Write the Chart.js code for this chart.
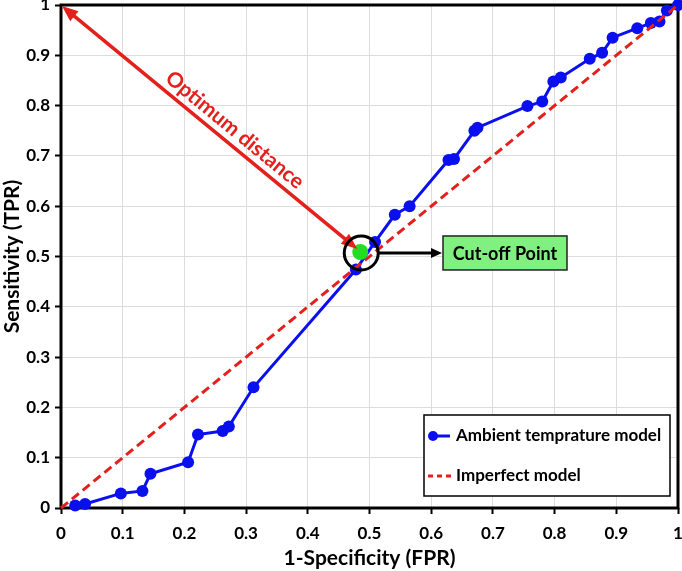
<!DOCTYPE html>
<html>
<head>
<meta charset="utf-8">
<script src="https://cdn.jsdelivr.net/npm/chart.js@4.4.1/dist/chart.umd.min.js"></script>
<style>
  html, body { margin: 0; padding: 0; background: #fff; }
  #wrap { width: 682px; height: 571px; }
</style>
</head>
<body>
<div id="wrap"><canvas id="roc"></canvas></div>
<script>
// ROC curve values
const fpr = [0.023, 0.039, 0.097, 0.132, 0.145, 0.206, 0.222, 0.262, 0.272, 0.312,
             0.478, 0.509, 0.541, 0.565, 0.628, 0.637, 0.670, 0.675, 0.756, 0.780,
             0.798, 0.810, 0.857, 0.877, 0.894, 0.934, 0.956, 0.970, 0.982, 1.000];
const tpr = [0.005, 0.008, 0.029, 0.034, 0.068, 0.091, 0.146, 0.153, 0.162, 0.240,
             0.474, 0.529, 0.583, 0.600, 0.692, 0.694, 0.750, 0.756, 0.799, 0.808,
             0.848, 0.856, 0.893, 0.905, 0.935, 0.954, 0.964, 0.967, 0.989, 1.000];
const diagX = [0, 1];
const diagY = [0, 1];
const cutoff = [0.485, 0.509];
const optimumCorner = [0, 1];
const tickValues = [0, 0.1, 0.2, 0.3, 0.4, 0.5, 0.6, 0.7, 0.8, 0.9, 1];
const seriesLabels = ['Ambient temprature model', 'Imperfect model'];

const FONT = 'Lato, "Open Sans", sans-serif';
const BLUE = '#0a0ff0';
const RED = '#e3201b';

function toPoints(xs, ys) {
    return xs.map((x, i) => ({ x: x, y: ys[i] }));
}

function setTicks(scale) {
    scale.ticks = tickValues.map(v => ({ value: v }));
}

function arrowHead(ctx, fx, fy, tx, ty, len, half) {
    const a = Math.atan2(ty - fy, tx - fx);
    ctx.beginPath();
    ctx.moveTo(tx, ty);
    ctx.lineTo(tx - len * Math.cos(a) + half * Math.sin(a), ty - len * Math.sin(a) - half * Math.cos(a));
    ctx.lineTo(tx - len * Math.cos(a) - half * Math.sin(a), ty - len * Math.sin(a) + half * Math.cos(a));
    ctx.closePath();
    ctx.fill();
}

// black frame round the plot area
const framePlugin = {
    id: 'frame',
    beforeDatasetsDraw(chart) {
        const { ctx, chartArea: a } = chart;
        ctx.save();
        ctx.strokeStyle = '#000';
        ctx.lineWidth = 3;
        ctx.strokeRect(a.left, a.top, a.right - a.left, a.bottom - a.top);
        ctx.restore();
    }
};

// arrows, circle and the cut-off label
const notesPlugin = {
    id: 'notes',
    afterDatasetsDraw(chart) {
        const { ctx, scales: { x, y } } = chart;
        const cx = x.getPixelForValue(cutoff[0]);
        const cy = y.getPixelForValue(cutoff[1]);
        const ox = x.getPixelForValue(optimumCorner[0]) + 1;
        const oy = y.getPixelForValue(optimumCorner[1]) + 1;
        ctx.save();

        // optimum distance double arrow
        const ex = cx - 3, ey = cy - 3;
        const ang = Math.atan2(ey - oy, ex - ox);
        ctx.strokeStyle = RED;
        ctx.fillStyle = RED;
        ctx.lineWidth = 3.5;
        ctx.beginPath();
        ctx.moveTo(ox + 10 * Math.cos(ang), oy + 10 * Math.sin(ang));
        ctx.lineTo(ex - 10 * Math.cos(ang), ey - 10 * Math.sin(ang));
        ctx.stroke();
        arrowHead(ctx, ex, ey, ox, oy, 16, 6.5);
        arrowHead(ctx, ox, oy, ex, ey, 16, 6.5);

        // label along the arrow
        const mx = ox + (ex - ox) * 0.555 + 14 * Math.sin(ang);
        const my = oy + (ey - oy) * 0.555 - 14 * Math.cos(ang);
        ctx.translate(mx, my);
        ctx.rotate(ang);
        ctx.font = 'bold 21px ' + FONT;
        ctx.textAlign = 'center';
        ctx.textBaseline = 'middle';
        ctx.fillText('Optimum distance', 0, 0);
        ctx.setTransform(1, 0, 0, 1, 0, 0);

        // circle around the cut-off point
        ctx.strokeStyle = '#000';
        ctx.fillStyle = '#000';
        ctx.lineWidth = 3;
        ctx.beginPath();
        ctx.arc(cx + 1, cy + 1, 17, 0, Math.PI * 2);
        ctx.stroke();

        // black arrow to the label box
        const bx = 443, by = cy + 1;
        ctx.beginPath();
        ctx.moveTo(cx + 18, by);
        ctx.lineTo(bx - 8, by);
        ctx.stroke();
        arrowHead(ctx, cx + 18, by, bx - 1, by, 11, 5);

        // label box
        ctx.fillStyle = '#80f080';
        ctx.fillRect(bx, by - 17, 124, 34);
        ctx.lineWidth = 1.5;
        ctx.strokeStyle = '#222';
        ctx.strokeRect(bx, by - 17, 124, 34);
        ctx.fillStyle = '#000';
        ctx.font = 'bold 18px ' + FONT;
        ctx.textAlign = 'center';
        ctx.textBaseline = 'middle';
        ctx.fillText('Cut-off Point', bx + 62, by + 1);
        ctx.restore();
    }
};

// legend box inside the plot
const legendPlugin = {
    id: 'boxLegend',
    afterDraw(chart) {
        const { ctx } = chart;
        const lx = 424, ly = 415, lw = 246, lh = 81;
        ctx.save();
        ctx.fillStyle = '#fff';
        ctx.fillRect(lx, ly, lw, lh);
        ctx.strokeStyle = '#000';
        ctx.lineWidth = 1.5;
        ctx.strokeRect(lx, ly, lw, lh);

        // blue entry
        ctx.strokeStyle = BLUE;
        ctx.lineWidth = 3;
        ctx.beginPath();
        ctx.moveTo(430, 436);
        ctx.lineTo(450, 436);
        ctx.stroke();
        ctx.fillStyle = BLUE;
        ctx.beginPath();
        ctx.arc(433, 436, 5, 0, Math.PI * 2);
        ctx.fill();

        // red entry
        ctx.strokeStyle = RED;
        ctx.setLineDash([5, 4]);
        ctx.beginPath();
        ctx.moveTo(428, 476);
        ctx.lineTo(452, 476);
        ctx.stroke();
        ctx.setLineDash([]);

        ctx.fillStyle = '#000';
        ctx.font = 'bold 17px ' + FONT;
        ctx.textAlign = 'left';
        ctx.textBaseline = 'middle';
        ctx.fillText(seriesLabels[0], 456, 436);
        ctx.fillText(seriesLabels[1], 456, 476);
        ctx.restore();
    }
};

const axisFont = { family: FONT, size: 17, weight: 'bold' };
const titleFont = { family: FONT, size: 21, weight: 'bold' };

new Chart(document.getElementById('roc'), {
    type: 'line',
    data: {
        datasets: [
            {
                label: 'Cut-off',
                data: [{ x: cutoff[0], y: cutoff[1] }],
                showLine: false,
                pointRadius: 8,
                pointBackgroundColor: '#22dd22',
                pointBorderWidth: 0,
                order: 0,
                clip: false
            },
            {
                label: seriesLabels[0],
                data: toPoints(fpr, tpr),
                borderColor: BLUE,
                backgroundColor: BLUE,
                borderWidth: 3,
                pointRadius: 6,
                pointBackgroundColor: BLUE,
                pointBorderWidth: 0,
                tension: 0,
                order: 2,
                clip: false
            },
            {
                label: seriesLabels[1],
                data: toPoints(diagX, diagY),
                borderColor: RED,
                borderWidth: 3,
                borderDash: [9, 5],
                pointRadius: 0,
                order: 1,
                clip: false
            }
        ]
    },
    options: {
        responsive: true,
        maintainAspectRatio: false,
        animation: false,
        layout: { autoPadding: false, padding: { top: 5, right: 4, left: 0, bottom: 0 } },
        plugins: {
            legend: { display: false },
            tooltip: { enabled: false }
        },
        scales: {
            x: {
                type: 'linear',
                min: 0,
                max: 1,
                afterBuildTicks: setTicks,
                afterFit(scale) {
                    scale.height = 63;
                    scale.paddingLeft = 0;
                    scale.paddingRight = 0;
                },
                grid: {
                    color: '#dcdcdc',
                    lineWidth: 1,
                    tickColor: '#000',
                    tickWidth: 2,
                    tickLength: 6
                },
                border: { display: false },
                ticks: {
                    color: '#000',
                    font: axisFont,
                    padding: 9,
                    maxRotation: 0,
                    autoSkip: false,
                    callback: v => +v.toFixed(1)
                },
                title: {
                    display: true,
                    text: '1-Specificity (FPR)',
                    color: '#000',
                    font: titleFont,
                    padding: { top: 0, bottom: 0 }
                }
            },
            y: {
                type: 'linear',
                min: 0,
                max: 1,
                afterBuildTicks: setTicks,
                afterFit(scale) {
                    scale.width = 61;
                    scale.paddingTop = 0;
                    scale.paddingBottom = 0;
                },
                grid: {
                    color: '#dcdcdc',
                    lineWidth: 1,
                    tickColor: '#000',
                    tickWidth: 2,
                    tickLength: 6
                },
                border: { display: false },
                ticks: {
                    color: '#000',
                    font: axisFont,
                    padding: 5,
                    autoSkip: false,
                    callback: v => +v.toFixed(1)
                },
                title: {
                    display: true,
                    text: 'Sensitivity (TPR)',
                    color: '#000',
                    font: titleFont,
                    padding: { top: 0, bottom: 0 }
                }
            }
        }
    },
    plugins: [framePlugin, notesPlugin, legendPlugin]
});
</script>
</body>
</html>
